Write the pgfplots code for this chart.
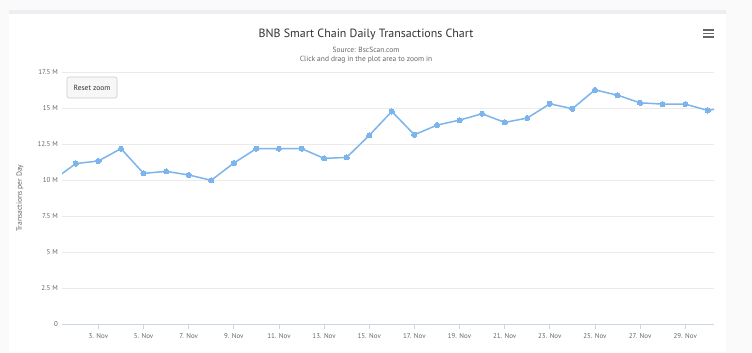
\documentclass[border=0pt]{standalone}
\usepackage{pgfplots}
\pgfplotsset{compat=1.18}
\usepackage{fontspec}
\setmainfont{PT Sans}
\definecolor{bgc}{HTML}{FAFAFA}
\definecolor{bandc}{HTML}{EDEDF2}
\definecolor{linec}{HTML}{7CB5EC}
\definecolor{gridc}{HTML}{EBEBEB}
\definecolor{axc}{HTML}{CCD6EB}
\definecolor{txt}{HTML}{666666}
\definecolor{ttl}{HTML}{333333}
\definecolor{btnf}{HTML}{F7F7F7}
\definecolor{btnd}{HTML}{CCCCCC}
\begin{document}
\begin{tikzpicture}[x=1bp,y=1bp]
\useasboundingbox (0,0) rectangle (752,352);
\fill[bgc] (0,0) rectangle (752,352);
\fill[white] (9,0) rectangle (726,338);
\fill[bandc] (9,338) rectangle (726,342);
\begin{axis}[
  at={(62bp,28bp)}, anchor=south west,
  scale only axis, width=652bp, height=252bp,
  xmin=1.387, xmax=30.275, ymin=0, ymax=17.5,
  axis x line*=bottom, axis y line*=left,
  x axis line style={draw=axc, line width=0.8bp},
  y axis line style={draw=none},
  xtick={3,5,...,29},
  xticklabels={3. Nov,5. Nov,7. Nov,9. Nov,11. Nov,13. Nov,15. Nov,17. Nov,19. Nov,21. Nov,23. Nov,25. Nov,27. Nov,29. Nov},
  ytick={0,2.5,5,7.5,10,12.5,15,17.5},
  yticklabels={0,2.5 M,5 M,7.5 M,10 M,12.5 M,15 M,17.5 M},
  xtick align=outside,
  x tick style={draw=axc, line width=0.8bp},
  y tick style={draw=none},
  major tick length=5bp,
  ymajorgrids, grid style={draw=gridc, line width=0.6bp},
  xticklabel style={font=\fontsize{7}{8}\selectfont, text=txt, inner sep=0pt, yshift=-4bp},
  yticklabel style={font=\fontsize{7}{8}\selectfont, text=txt, inner sep=0pt, xshift=-4bp},
  ylabel={Transactions per Day},
  every axis y label/.style={at={(rel axis cs:0,0.5)}, xshift=-42bp, rotate=90, anchor=center, font=\fontsize{7.6}{8}\selectfont, text=txt},
  clip=true,
]
\addplot[color=linec, line width=1.5bp, mark=*, mark size=2.6bp, mark options={fill=linec, draw=linec, line width=0pt}] coordinates {
(1,10.00) (2,11.14) (3,11.32) (4,12.18) (5,10.46) (6,10.60) (7,10.35) (8,9.98)
(9,11.18) (10,12.18) (11,12.18) (12,12.18) (13,11.50) (14,11.57) (15,13.10)
(16,14.76) (17,13.14) (18,13.81) (19,14.16) (20,14.60) (21,14.00) (22,14.30)
(23,15.29) (24,14.95) (25,16.26) (26,15.89) (27,15.36) (28,15.27) (29,15.27)
(30,14.83) (31,15.10)
};
\end{axis}
\node[text=ttl, font=\fontsize{12}{13}\selectfont] at (366,318) {BNB Smart Chain Daily Transactions Chart};
\node[text=txt, font=\fontsize{7.5}{8}\selectfont] at (366,302) {Source: BscScan.com};
\node[text=txt, font=\fontsize{7.5}{8}\selectfont] at (366,292) {Click and drag in the plot area to zoom in};
\filldraw[fill=btnf, draw=btnd, rounded corners=2bp, line width=0.6bp] (67,254) rectangle (117,275);
\node[text=ttl, font=\fontsize{7.5}{8}\selectfont] at (92,264.5) {Reset zoom};
\draw[txt, line width=1.8bp] (703,322) -- (714,322) (703,318.5) -- (714,318.5) (703,315) -- (714,315);
\end{tikzpicture}
\end{document}
